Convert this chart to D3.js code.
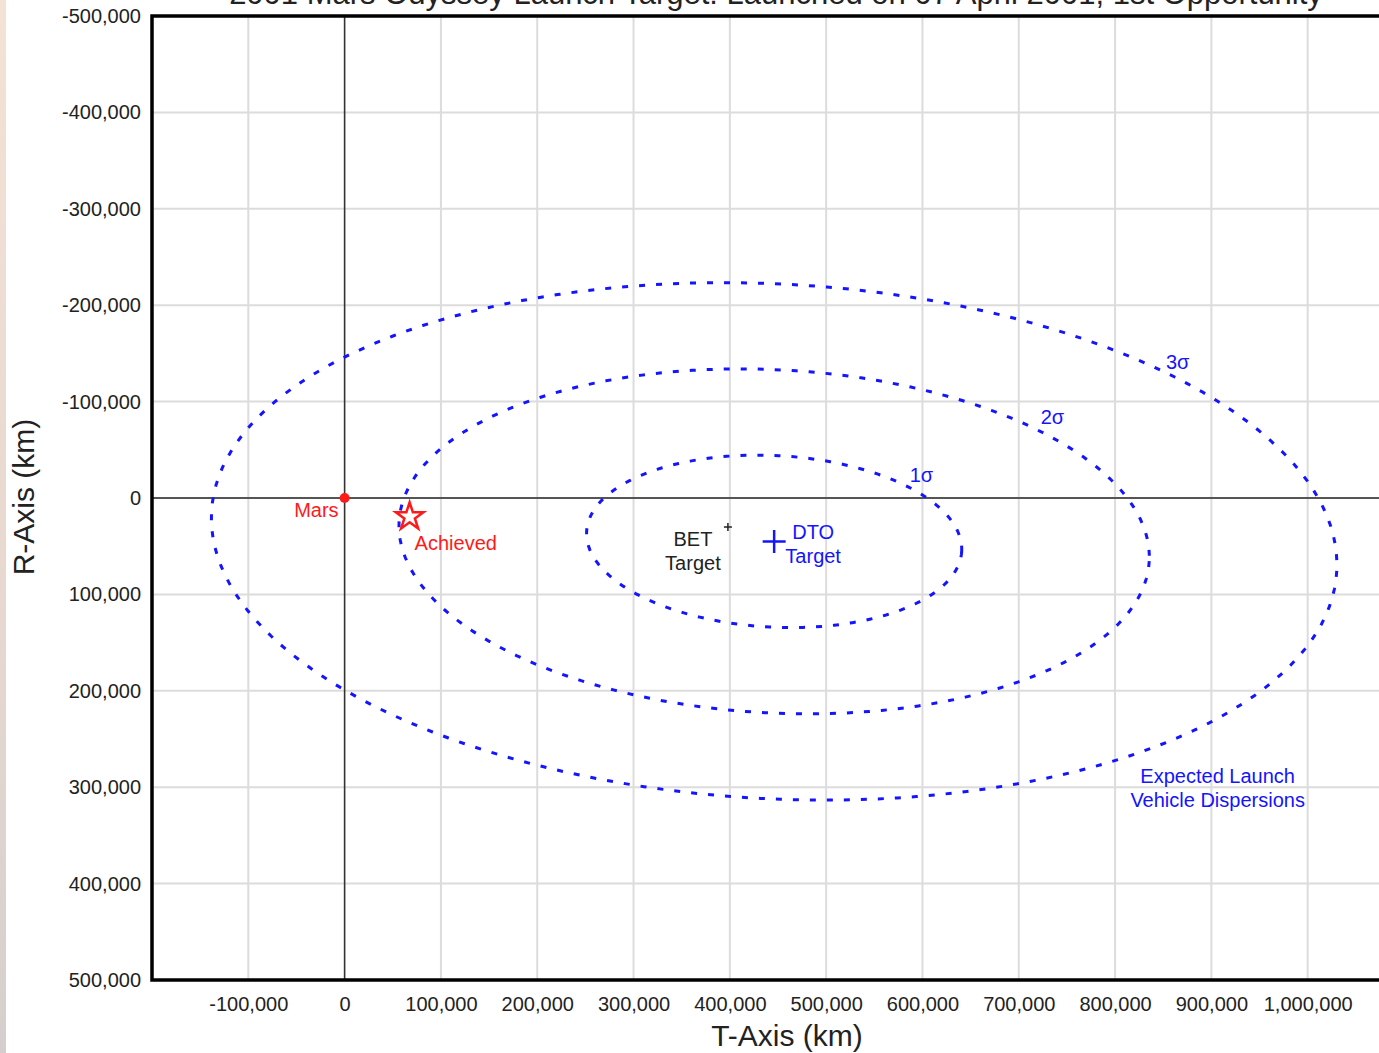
<!DOCTYPE html>
<html>
<head>
<meta charset="utf-8">
<script src="https://cdn.jsdelivr.net/npm/d3@7"></script>
<style>
  html, body { margin: 0; padding: 0; background: #fff; }
  svg { display: block; font-family: "Liberation Sans", Arial, sans-serif; }
</style>
</head>
<body>
<svg id="chart" width="1379" height="1053"></svg>
<script>
// ---------- data ----------
const titleText = "2001 Mars Odyssey Launch Target: Launched on 07 April 2001, 1st Opportunity";
const xTicks = [-100000, 0, 100000, 200000, 300000, 400000, 500000, 600000, 700000, 800000, 900000, 1000000];
const yTicks = [-500000, -400000, -300000, -200000, -100000, 0, 100000, 200000, 300000, 400000, 500000];
const xDomain = [-200000, 1100000];
const yDomain = [-500000, 500000];

const marsPoint = [0, 0];                 // T, R (km)
const achievedPoint = [67500, 19500];
const betTarget = [398000, 30000];
const dtoTarget = [446000, 45000];

const sigmaLevels = [1, 2, 3];
const sigmaSemiAxes = [195000, 89000];    // 1-sigma semi-axes (T, R), km
const sigmaTiltDeg = 3;                   // ellipse tilt

const sigmaLabelPos = [[599000, -24000], [735000, -84000], [865000, -141000]];
const dispersionLabelPos = [906500, 288000];

// ---------- layout ----------
const svg = d3.select("#chart");
const W = 1379, H = 1053;
const plot = { left: 152, top: 16, bottom: 980, right: 1404 };

const x = d3.scaleLinear().domain(xDomain).range([plot.left, plot.right]);
const y = d3.scaleLinear().domain(yDomain).range([plot.top, plot.bottom]);

const loc = d3.formatLocale({ decimal: ".", thousands: ",", grouping: [3], currency: ["$", ""], minus: "-" });
const fmt = loc.format(",");

const blue = "#1414ff";
const red = "#ff1a1a";
const fs = 20;

// left background strip
const defs = svg.append("defs");
const grad = defs.append("linearGradient").attr("id", "strip").attr("x1", 0).attr("y1", 0).attr("x2", 0).attr("y2", 1);
grad.append("stop").attr("offset", "0%").attr("stop-color", "#f3e2d5");
grad.append("stop").attr("offset", "60%").attr("stop-color", "#e6d8d0");
grad.append("stop").attr("offset", "100%").attr("stop-color", "#d4cfce");
svg.append("rect").attr("x", 0).attr("y", 0).attr("width", 6).attr("height", H).attr("fill", "url(#strip)");

// title (clipped by top of frame, as in the reference)
svg.append("text")
  .attr("x", 776).attr("y", 4)
  .attr("text-anchor", "middle")
  .attr("font-size", 31)
  .attr("fill", "#222")
  .text(titleText);

// gridlines
const grid = svg.append("g");
grid.selectAll(".vg").data(xTicks.filter(d => d !== 0)).join("line")
  .attr("x1", d => x(d)).attr("x2", d => x(d))
  .attr("y1", plot.top).attr("y2", plot.bottom)
  .attr("stroke", "#dcdcdc").attr("stroke-width", 2);
grid.selectAll(".hg").data(yTicks.filter(d => d !== 0)).join("line")
  .attr("y1", d => y(d)).attr("y2", d => y(d))
  .attr("x1", plot.left).attr("x2", plot.right)
  .attr("stroke", "#dcdcdc").attr("stroke-width", 2);

// zero lines
svg.append("line")
  .attr("x1", x(0)).attr("x2", x(0)).attr("y1", plot.top).attr("y2", plot.bottom)
  .attr("stroke", "#333").attr("stroke-width", 1.6);
svg.append("line")
  .attr("y1", y(0)).attr("y2", y(0)).attr("x1", plot.left).attr("x2", plot.right)
  .attr("stroke", "#555").attr("stroke-width", 2);

// frame
svg.append("path")
  .attr("d", `M${plot.right},${plot.top}H${plot.left}V${plot.bottom}H${plot.right}`)
  .attr("fill", "none").attr("stroke", "#000").attr("stroke-width", 3.5);

// axes (labels only)
const yAxis = svg.append("g").attr("transform", `translate(${plot.left},0)`)
  .call(d3.axisLeft(y).tickValues(yTicks).tickFormat(fmt).tickSize(0).tickPadding(11));
const xAxis = svg.append("g").attr("transform", `translate(0,${plot.bottom})`)
  .call(d3.axisBottom(x).tickValues(xTicks).tickFormat(fmt).tickSize(0).tickPadding(17));
[xAxis, yAxis].forEach(a => {
  a.select(".domain").remove();
  a.selectAll("text").attr("font-size", fs).attr("fill", "#222")
    .attr("font-family", "'Liberation Sans', Arial, sans-serif");
});

// axis titles
svg.append("text").attr("x", 787).attr("y", 1046).attr("text-anchor", "middle")
  .attr("font-size", 30).attr("fill", "#222").text("T-Axis (km)");
svg.append("text").attr("transform", "translate(34,497) rotate(-90)").attr("text-anchor", "middle")
  .attr("font-size", 30).attr("fill", "#222").text("R-Axis (km)");

// dispersion ellipses
const tilt = sigmaTiltDeg * Math.PI / 180;
const angles = d3.range(0, 361, 2).map(a => a * Math.PI / 180);
const line = d3.line().x(d => x(d[0])).y(d => y(d[1]));
svg.append("g").selectAll("path").data(sigmaLevels).join("path")
  .attr("d", k => {
    const a = sigmaSemiAxes[0] * k, b = sigmaSemiAxes[1] * k;
    const pts = angles.map(t => {
      const ex = a * Math.cos(t), ey = b * Math.sin(t);
      return [dtoTarget[0] + ex * Math.cos(tilt) - ey * Math.sin(tilt),
              dtoTarget[1] + ex * Math.sin(tilt) + ey * Math.cos(tilt)];
    });
    return line(pts) + "Z";
  })
  .attr("fill", "none").attr("stroke", blue).attr("stroke-width", 3)
  .attr("stroke-dasharray", "6,11");

// sigma labels
svg.append("g").selectAll("text").data(sigmaLevels).join("text")
  .attr("x", (k, i) => x(sigmaLabelPos[i][0]))
  .attr("y", (k, i) => y(sigmaLabelPos[i][1]))
  .attr("dy", "0.35em").attr("text-anchor", "middle")
  .attr("font-size", fs).attr("fill", blue)
  .text(k => k + "σ");

// dispersion label
const dl = svg.append("text").attr("text-anchor", "middle").attr("font-size", fs).attr("fill", blue);
["Expected Launch", "Vehicle Dispersions"].forEach((s, i) => {
  dl.append("tspan").attr("x", x(dispersionLabelPos[0])).attr("y", y(dispersionLabelPos[1]) + i * 24)
    .attr("dy", "0.35em").text(s);
});

// Mars
svg.append("circle").attr("cx", x(marsPoint[0])).attr("cy", y(marsPoint[1])).attr("r", 5).attr("fill", red);
svg.append("text").attr("x", x(marsPoint[0]) - 6).attr("y", y(marsPoint[1]) + 12)
  .attr("dy", "0.35em").attr("text-anchor", "end").attr("font-size", fs).attr("fill", red).text("Mars");

// Achieved
svg.append("path")
  .attr("transform", `translate(${x(achievedPoint[0])},${y(achievedPoint[1])})`)
  .attr("d", d3.symbol(d3.symbolStar, 236)())
  .attr("fill", "none").attr("stroke", red).attr("stroke-width", 2.5);
svg.append("text").attr("x", x(achievedPoint[0]) + 5).attr("y", y(achievedPoint[1]) + 26)
  .attr("dy", "0.35em").attr("font-size", fs).attr("fill", red).text("Achieved");

// BET target
const bx = x(betTarget[0]), by = y(betTarget[1]);
svg.append("path").attr("d", `M${bx - 4},${by}H${bx + 4}M${bx},${by - 4}V${by + 4}`)
  .attr("stroke", "#222").attr("stroke-width", 1.5);
const bt = svg.append("text").attr("text-anchor", "middle").attr("font-size", fs).attr("fill", "#222");
["BET", "Target"].forEach((s, i) => {
  bt.append("tspan").attr("x", bx - 35).attr("y", by + 12 + i * 24).attr("dy", "0.35em").text(s);
});

// DTO target
const dx = x(dtoTarget[0]), dy = y(dtoTarget[1]);
svg.append("path").attr("d", `M${dx - 11.5},${dy}H${dx + 11.5}M${dx},${dy - 11.5}V${dy + 11.5}`)
  .attr("stroke", blue).attr("stroke-width", 2.5);
const dt = svg.append("text").attr("text-anchor", "middle").attr("font-size", fs).attr("fill", blue);
["DTO", "Target"].forEach((s, i) => {
  dt.append("tspan").attr("x", dx + 39).attr("y", dy - 9 + i * 24).attr("dy", "0.35em").text(s);
});
</script>
</body>
</html>
